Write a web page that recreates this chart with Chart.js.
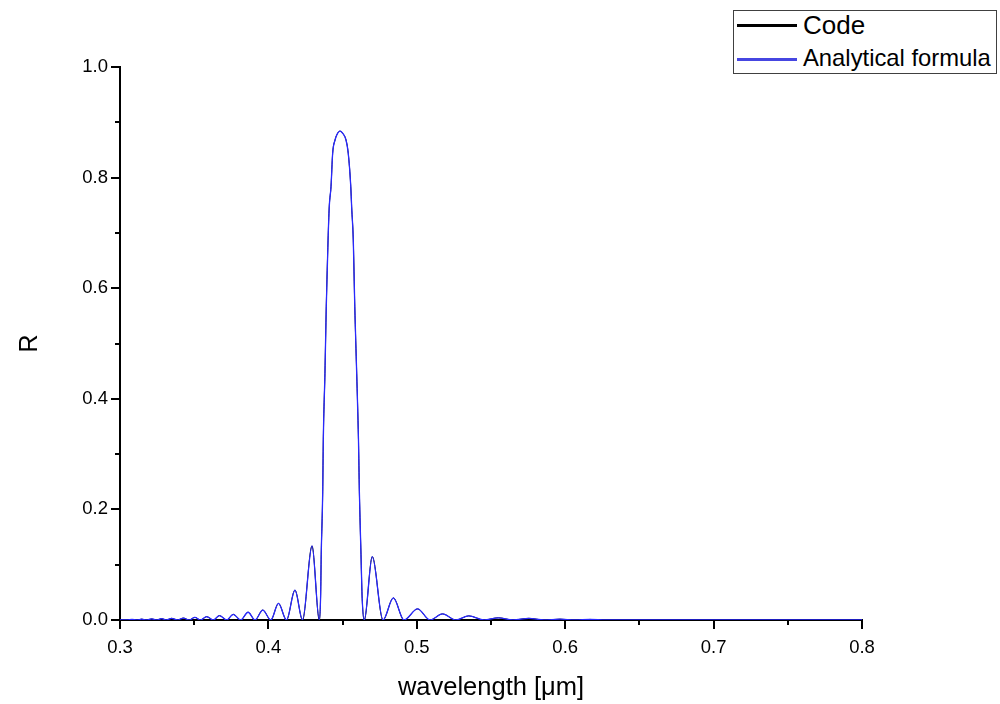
<!DOCTYPE html>
<html>
<head>
<meta charset="utf-8">
<script src="https://cdn.jsdelivr.net/npm/chart.js@4/dist/chart.umd.min.js"></script>
<style>
  html, body { margin: 0; padding: 0; background: #fff; }
  #wrap { position: relative; width: 1000px; height: 704px; }
  #legend { position: absolute; left: 733px; top: 10px; width: 262px; height: 62px;
            border: 1px solid #404040; background: #fff; font-family: "Liberation Sans", Arial, sans-serif; }
  .lg-line { position: absolute; left: 3px; width: 60px; }
  .lg-text { position: absolute; left: 69px; white-space: nowrap; color: #000; }
</style>
</head>
<body>
<div id="wrap">
  <canvas id="c" width="1000" height="704"></canvas>
  <div id="legend">
    <div class="lg-line" style="top:13px;height:3px;background:#000;"></div>
    <div class="lg-text" style="top:-1px;font-size:26px;line-height:30px;">Code</div>
    <div class="lg-line" style="top:47px;height:2.5px;background:rgb(70,70,225);"></div>
    <div class="lg-text" style="top:33px;font-size:23.8px;line-height:28px;">Analytical formula</div>
  </div>
</div>
<script>
// ---- data ----
const wavelength = [
  0.3000, 0.3047, 0.3081, 0.3115, 0.3146, 0.3179, 0.3214, 0.3246, 0.3281, 0.3313,
  0.3348, 0.3387, 0.3427, 0.3465, 0.3505, 0.3542, 0.3584, 0.3629, 0.3670, 0.3719,
  0.3763, 0.3813, 0.3863, 0.3910, 0.3962, 0.4016, 0.4068, 0.4122, 0.4179, 0.4230,
  0.4294, 0.4343,
  0.4352, 0.4356, 0.4366, 0.4370, 0.4381, 0.4390, 0.4402, 0.4410, 0.4422, 0.4433,
  0.4449, 0.4466, 0.4482, 0.4501, 0.4523, 0.4538, 0.4555, 0.4561, 0.4572, 0.4582,
  0.4595, 0.4607, 0.4613, 0.4624, 0.4631, 0.4646,
  0.4700, 0.4772, 0.4842, 0.4914, 0.5005, 0.5089, 0.5173, 0.5264, 0.5350, 0.5453,
  0.5549, 0.5648, 0.5755, 0.5857, 0.5965, 0.6066, 0.6167, 0.6275, 0.8000
];
const rCode = [
  0, 0, 0.001, 0, 0.0015, 0, 0.002, 0, 0.0025, 0,
  0.003, 0, 0.0035, 0, 0.0048, 0, 0.006, 0, 0.008, 0,
  0.0103, 0, 0.014, 0, 0.018, 0, 0.030, 0, 0.054, 0,
  0.134, 0,
  0.045, 0.118, 0.232, 0.326, 0.446, 0.567, 0.687, 0.747, 0.784, 0.844,
  0.868, 0.880, 0.884, 0.880, 0.868, 0.844, 0.784, 0.747, 0.687, 0.567,
  0.446, 0.326, 0.232, 0.118, 0.045, 0,
  0.1145, 0, 0.040, 0, 0.020, 0, 0.011, 0, 0.0075, 0,
  0.004, 0, 0.003, 0, 0.0015, 0, 0.001, 0, 0
];
const rAnalytical = [
  0, 0, 0.001, 0, 0.0015, 0, 0.002, 0, 0.0025, 0,
  0.003, 0, 0.0035, 0, 0.0048, 0, 0.006, 0, 0.008, 0,
  0.0103, 0, 0.014, 0, 0.018, 0, 0.030, 0, 0.054, 0,
  0.134, 0,
  0.045, 0.118, 0.232, 0.326, 0.446, 0.567, 0.687, 0.747, 0.784, 0.844,
  0.868, 0.880, 0.884, 0.880, 0.868, 0.844, 0.784, 0.747, 0.687, 0.567,
  0.446, 0.326, 0.232, 0.118, 0.045, 0,
  0.1145, 0, 0.040, 0, 0.020, 0, 0.011, 0, 0.0075, 0,
  0.004, 0, 0.003, 0, 0.0015, 0, 0.001, 0, 0
];
const seriesNames = ["Code", "Analytical formula"];
const xTickValues = [0.3, 0.4, 0.5, 0.6, 0.7, 0.8];
const yTickValues = [0.0, 0.2, 0.4, 0.6, 0.8, 1.0];
const xMinorTicks = [0.35, 0.45, 0.55, 0.65, 0.75];
const yMinorTicks = [0.1, 0.3, 0.5, 0.7, 0.9];

const toPts = (ys) => wavelength.map((x, i) => ({ x: x, y: ys[i] }));

const tickMarks = {
  id: 'tickMarks',
  afterDraw(chart) {
    const ctx = chart.ctx;
    const xs = chart.scales.x, ys = chart.scales.y;
    const ca = chart.chartArea;
    ctx.save();
    ctx.strokeStyle = '#000';
    ctx.lineWidth = 2;
    ctx.beginPath();
    xTickValues.forEach(v => { const p = Math.round(xs.getPixelForValue(v)); ctx.moveTo(p, ca.bottom); ctx.lineTo(p, ca.bottom + 9); });
    xMinorTicks.forEach(v => { const p = Math.round(xs.getPixelForValue(v)); ctx.moveTo(p, ca.bottom); ctx.lineTo(p, ca.bottom + 5); });
    yTickValues.forEach(v => { const p = Math.round(ys.getPixelForValue(v)); ctx.moveTo(ca.left, p); ctx.lineTo(ca.left - 9, p); });
    yMinorTicks.forEach(v => { const p = Math.round(ys.getPixelForValue(v)); ctx.moveTo(ca.left, p); ctx.lineTo(ca.left - 5, p); });
    ctx.stroke();
    ctx.restore();
  }
};

new Chart(document.getElementById('c'), {
  type: 'line',
  data: {
    datasets: [
      { label: seriesNames[0], data: toPts(rCode), borderColor: '#000', borderWidth: 1,
        pointRadius: 0, cubicInterpolationMode: 'monotone', order: 1 },
      { label: seriesNames[1], data: toPts(rAnalytical), borderColor: 'rgb(40,40,255)', borderWidth: 1.3,
        pointRadius: 0, cubicInterpolationMode: 'monotone', order: 0 }
    ]
  },
  options: {
    responsive: false,
    animation: false,
    parsing: false,
    layout: { padding: { left: 0, top: 67, right: 138, bottom: 0 } },
    plugins: { legend: { display: false }, tooltip: { enabled: false } },
    scales: {
      x: {
        type: 'linear', min: 0.3, max: 0.8,
        afterFit: (s) => { s.height = 84; },
        afterBuildTicks: (s) => { s.ticks = xTickValues.map(v => ({ value: v })); },
        grid: { display: true, drawOnChartArea: false, drawTicks: false },
        border: { display: true, color: '#000', width: 2 },
        ticks: { padding: 17, color: '#000', maxRotation: 0,
                 font: { family: 'Liberation Sans', size: 18.5 },
                 callback: (v) => Number(v).toFixed(1) },
        title: { display: true, text: 'wavelength [μm]', color: '#000',
                 font: { family: 'Liberation Sans', size: 25.5 }, padding: { top: 0, bottom: 1 } }
      },
      y: {
        type: 'linear', min: 0, max: 1,
        afterFit: (s) => { s.width = 120; },
        afterBuildTicks: (s) => { s.ticks = yTickValues.map(v => ({ value: v })); },
        grid: { display: true, drawOnChartArea: false, drawTicks: false },
        border: { display: true, color: '#000', width: 2 },
        ticks: { padding: 12, color: '#000',
                 font: { family: 'Liberation Sans', size: 18.5 },
                 callback: (v) => Number(v).toFixed(1) },
        title: { display: true, text: 'R', color: '#000',
                 font: { family: 'Liberation Sans', size: 25 }, padding: { top: 15, bottom: 0 } }
      }
    }
  },
  plugins: [tickMarks]
});
</script>
</body>
</html>
